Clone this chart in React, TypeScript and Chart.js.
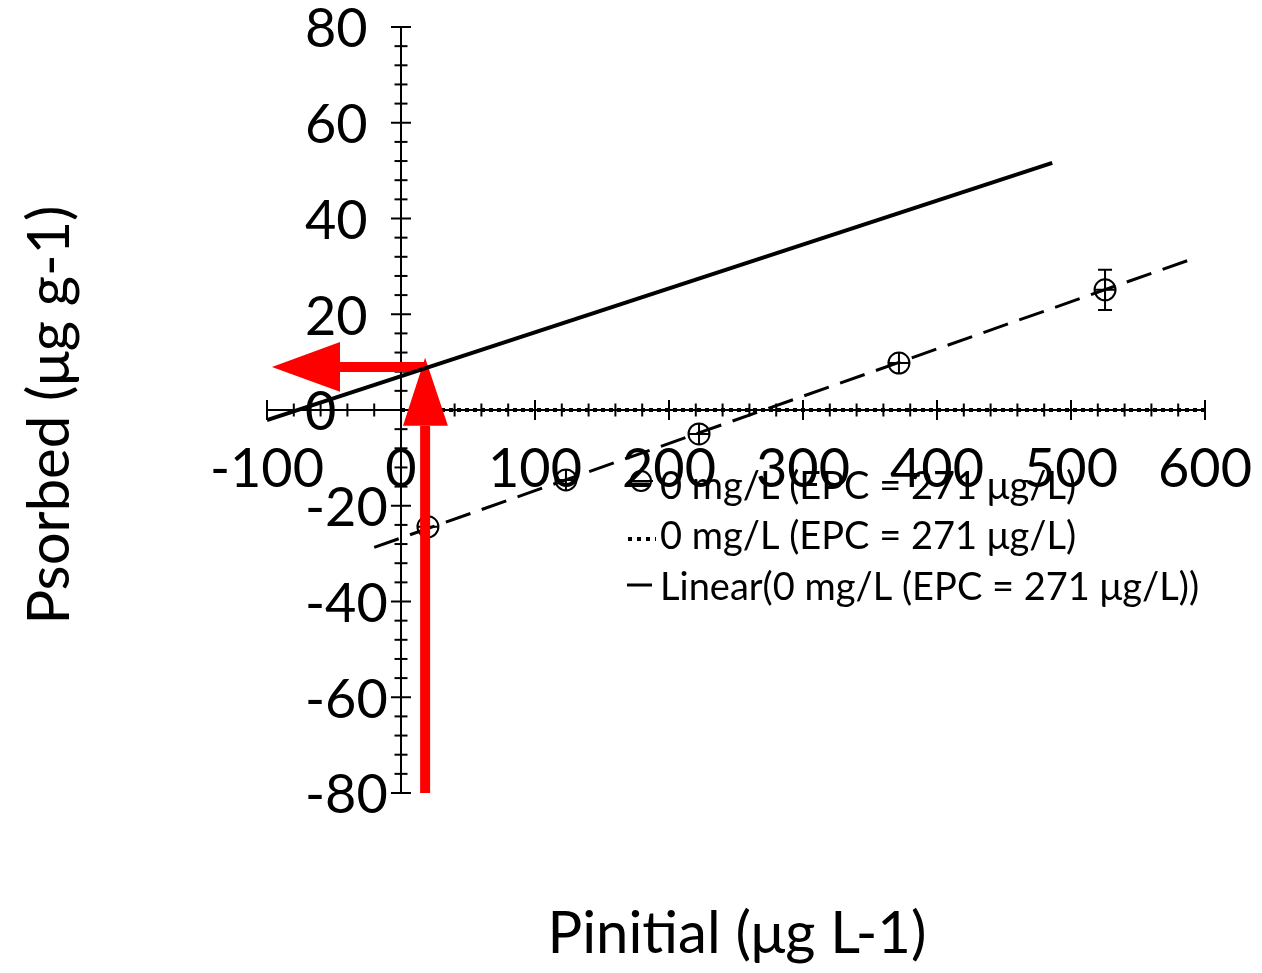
import { useEffect, useRef } from "react";
import { Chart, registerables } from "chart.js";

Chart.register(...registerables);

// ---- axis ranges / ticks ----
const xMin = -100;
const xMax = 600;
const yMin = -80;
const yMax = 80;
const xMajorStep = 100;
const xMinorStep = 20;
const yMajorStep = 20;
const yMinorStep = 4;

// ---- measured points ----
const pInitial = [20.1, 123.1, 222.4, 371.6, 525.4];
const pSorbed = [-24.4, -14.6, -5.0, 9.8, 25.1];
const pSorbedErr = [0, 0, 0, 0, 4.2];

// ---- dashed fit through the points ----
const fitX = [-20, 592];
const fitY = [-28.7, 31.7];

// ---- dotted zero series ----
const zeroX = [0, 600];
const zeroY = [0, 0];

// ---- solid linear line ----
const linearX = [-100, 486];
const linearY = [-2.1, 51.6];

// ---- red arrows ----
const upShaftX = [18, 18];
const upShaftY = [-80, -3.3];
const upHeadX = [1.5, 18, 35];
const upHeadY = [-3.3, 10.9, -3.3];
const leftShaftX = [18, -45.5];
const leftShaftY = [9, 9];
const leftHeadX = [-45.5, -96.3, -45.5];
const leftHeadY = [14.2, 9, 3.8];

// ---- text ----
const legendLabels = [
  "0 mg/L (EPC = 271 μg/L)",
  "0 mg/L (EPC = 271 μg/L)",
  "Linear(0 mg/L (EPC = 271 μg/L))",
];
const xTitle = "Pinitial (μg L-1)";
const yTitle = "Psorbed (μg g-1)";

const FONT = "Lato";
const TICK_SIZE = 54;

const zip = (xs: number[], ys: number[]) => xs.map((x, i) => ({ x, y: ys[i] }));

const decorPlugin = {
  id: "decor",
  beforeDatasetsDraw(chart: any) {
    const { ctx, scales } = chart;
    const xs = scales.x;
    const ys = scales.y;
    const x0 = xs.getPixelForValue(0);
    const y0 = ys.getPixelForValue(0);
    ctx.save();
    ctx.strokeStyle = "#000";
    ctx.lineWidth = 2;
    const ny = Math.round((yMax - yMin) / yMinorStep);
    for (let i = 0; i <= ny; i++) {
      const v = yMin + i * yMinorStep;
      const py = ys.getPixelForValue(v);
      const major = Math.abs(v % yMajorStep) < 1e-6;
      const h = major ? 10 : 6.5;
      ctx.beginPath();
      ctx.moveTo(x0 - h, py);
      ctx.lineTo(x0 + h, py);
      ctx.stroke();
    }
    const nx = Math.round((xMax - xMin) / xMinorStep);
    for (let i = 0; i <= nx; i++) {
      const v = xMin + i * xMinorStep;
      const px = xs.getPixelForValue(v);
      const major = Math.abs(v % xMajorStep) < 1e-6;
      const h = major ? 10 : 6.5;
      ctx.beginPath();
      ctx.moveTo(px, y0 - h);
      ctx.lineTo(px, y0 + h);
      ctx.stroke();
    }
    // y tick labels (left aligned, as in the reference)
    ctx.fillStyle = "#000";
    ctx.font = `${TICK_SIZE}px ${FONT}`;
    ctx.textAlign = "left";
    ctx.textBaseline = "middle";
    for (const t of ys.ticks) {
      const py = ys.getPixelForValue(t.value);
      ctx.fillText(t.label ?? String(t.value), x0 - 96, py + 3);
    }
    ctx.restore();
  },
  afterDatasetsDraw(chart: any) {
    const { ctx, scales } = chart;
    const xs = scales.x;
    const ys = scales.y;
    ctx.save();
    ctx.strokeStyle = "#000";
    ctx.lineWidth = 2;
    pInitial.forEach((xv, i) => {
      const e = pSorbedErr[i];
      if (!e) return;
      const px = xs.getPixelForValue(xv);
      const top = ys.getPixelForValue(pSorbed[i] + e);
      const bot = ys.getPixelForValue(pSorbed[i] - e);
      ctx.beginPath();
      ctx.moveTo(px, top);
      ctx.lineTo(px, bot);
      ctx.moveTo(px - 7, top);
      ctx.lineTo(px + 7, top);
      ctx.moveTo(px - 7, bot);
      ctx.lineTo(px + 7, bot);
      ctx.stroke();
    });
    ctx.restore();
  },
  afterDraw(chart: any) {
    const { ctx } = chart;
    ctx.save();
    ctx.fillStyle = "#000";
    ctx.strokeStyle = "#000";
    // axis titles
    ctx.font = `58px ${FONT}`;
    ctx.textAlign = "center";
    ctx.textBaseline = "alphabetic";
    ctx.fillText(xTitle, 737, 953);
    ctx.save();
    ctx.translate(69, 415);
    ctx.rotate(-Math.PI / 2);
    ctx.fillText(yTitle, 0, 0);
    ctx.restore();
    // legend
    const lx = 660;
    const rows = [487, 537, 588];
    ctx.font = `38px ${FONT}`;
    ctx.textAlign = "left";
    ctx.textBaseline = "middle";
    legendLabels.forEach((lab, i) => ctx.fillText(lab, lx, rows[i]));
    // markers
    ctx.lineWidth = 2;
    ctx.beginPath();
    ctx.arc(641, 481, 10, 0, Math.PI * 2);
    ctx.stroke();
    ctx.beginPath();
    ctx.moveTo(629, 481);
    ctx.lineTo(653, 481);
    ctx.stroke();
    ctx.lineWidth = 4;
    ctx.setLineDash([4, 5]);
    ctx.beginPath();
    ctx.moveTo(628, 539);
    ctx.lineTo(656, 539);
    ctx.stroke();
    ctx.setLineDash([]);
    ctx.lineWidth = 3;
    ctx.beginPath();
    ctx.moveTo(627, 585);
    ctx.lineTo(652, 585);
    ctx.stroke();
    ctx.restore();
  },
};

export default function App() {
  const ref = useRef<HTMLCanvasElement | null>(null);
  useEffect(() => {
    if (!ref.current) return;
    const red = "#ff0000";
    const chart = new Chart(ref.current, {
      type: "scatter",
      data: {
        datasets: [
          {
            label: "linear",
            data: zip(linearX, linearY),
            showLine: true,
            borderColor: "#000",
            borderWidth: 4,
            pointRadius: 0,
            order: 0,
          },
          {
            label: "upShaft",
            data: zip(upShaftX, upShaftY),
            showLine: true,
            borderColor: red,
            borderWidth: 10,
            pointRadius: 0,
            order: 1,
          },
          {
            label: "upHead",
            data: zip(upHeadX, upHeadY),
            showLine: true,
            borderColor: red,
            backgroundColor: red,
            borderWidth: 0,
            fill: "shape",
            pointRadius: 0,
            order: 1,
          },
          {
            label: "leftShaft",
            data: zip(leftShaftX, leftShaftY),
            showLine: true,
            borderColor: red,
            borderWidth: 10,
            pointRadius: 0,
            order: 1,
          },
          {
            label: "leftHead",
            data: zip(leftHeadX, leftHeadY),
            showLine: true,
            borderColor: red,
            backgroundColor: red,
            borderWidth: 0,
            fill: "shape",
            pointRadius: 0,
            order: 1,
          },
          {
            label: "points",
            data: zip(pInitial, pSorbed),
            showLine: false,
            pointStyle: "circle",
            pointRadius: 10.5,
            pointBorderWidth: 2,
            pointBorderColor: "#000",
            pointBackgroundColor: "rgba(0,0,0,0)",
            order: 2,
          },
          {
            label: "pointsCross",
            data: zip(pInitial, pSorbed),
            showLine: false,
            pointStyle: "cross",
            pointRadius: 10.5,
            pointBorderWidth: 2,
            pointBorderColor: "#000",
            order: 2,
          },
          {
            label: "fit",
            data: zip(fitX, fitY),
            showLine: true,
            borderColor: "#000",
            borderWidth: 3,
            borderDash: [26, 12],
            pointRadius: 0,
            order: 3,
          },
          {
            label: "zero",
            data: zip(zeroX, zeroY),
            showLine: true,
            borderColor: "#000",
            borderWidth: 4,
            borderDash: [4, 4],
            pointRadius: 0,
            order: 4,
          },
        ],
      },
      options: {
        animation: false,
        responsive: false,
        devicePixelRatio: 1,
        layout: { padding: { left: 267, right: 57, top: 27, bottom: 180 } },
        plugins: { legend: { display: false }, tooltip: { enabled: false }, title: { display: false } },
        scales: {
          x: {
            type: "linear",
            min: xMin,
            max: xMax,
            position: { y: 0 },
            afterFit: (s: any) => {
              s.height = 0;
              s.paddingLeft = 0;
              s.paddingRight = 0;
            },
            border: { display: true, color: "#000", width: 2 },
            grid: { display: false },
            ticks: {
              stepSize: xMajorStep,
              autoSkip: false,
              maxRotation: 0,
              padding: 19,
              color: "#000",
              font: { family: FONT, size: TICK_SIZE },
            },
          },
          y: {
            type: "linear",
            min: yMin,
            max: yMax,
            position: { x: 0 },
            afterFit: (s: any) => {
              s.width = 0;
              s.paddingTop = 0;
              s.paddingBottom = 0;
            },
            border: { display: true, color: "#000", width: 2 },
            grid: { display: false },
            ticks: { stepSize: yMajorStep, display: false },
          },
        },
      } as any,
      plugins: [decorPlugin],
    });
    return () => chart.destroy();
  }, []);
  return (
    <div style={{ position: "absolute", left: 0, top: 0, width: 1262, height: 973, background: "#fff" }}>
      <canvas ref={ref} width={1262} height={973} />
    </div>
  );
}
